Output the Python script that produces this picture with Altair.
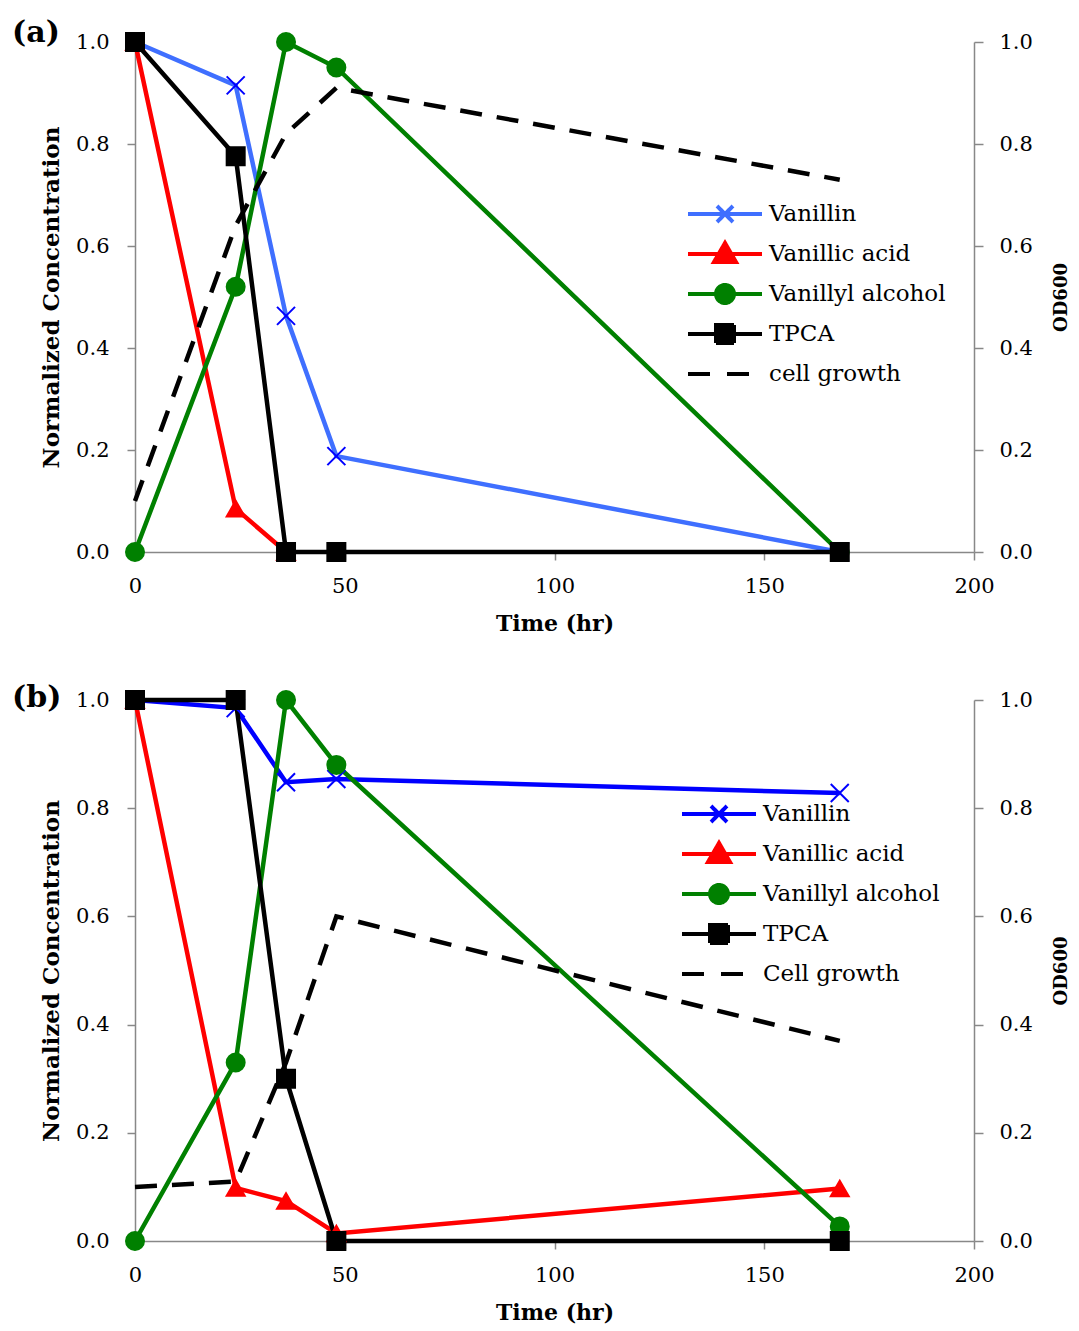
import altair as alt
import pandas as pd

FONT = "DejaVu Serif"

# ---------------- data ----------------
time_hr = [0, 24, 36, 48, 168]
series_names = ["Vanillin", "Vanillic acid", "Vanillyl alcohol", "TPCA"]

# panel (a)
a_vanillin = [1.0, 0.915, 0.463, 0.188, 0.0]
a_vanillic_acid = [1.0, 0.085, 0.0, None, None]
a_vanillyl_alcohol = [0.0, 0.52, 1.0, 0.95, 0.0]
a_tpca = [1.0, 0.776, 0.0, 0.0, 0.0]
a_cell_growth = [0.10, 0.64, 0.82, 0.91, 0.73]

# panel (b)
b_vanillin = [1.0, 0.985, 0.848, 0.854, 0.828]
b_vanillic_acid = [1.0, 0.098, 0.074, 0.014, 0.097]
b_vanillyl_alcohol = [0.0, 0.33, 1.0, 0.88, 0.027]
b_tpca = [1.0, 1.0, 0.30, 0.0, 0.0]
b_cell_growth = [0.10, 0.11, 0.33, 0.60, 0.37]

x_ticks = [0, 50, 100, 150, 200]
y_ticks = [0.0, 0.2, 0.4, 0.6, 0.8, 1.0]

# ---------------- styles ----------------
a_line_colors = ["#3F6FFF", "#FF0000", "#008000", "#000000"]
a_marker_colors = ["#0000FF", "#FF0000", "#008000", "#000000"]
b_line_colors = ["#0000FF", "#FF0000", "#008000", "#000000"]
b_marker_colors = ["#0000FF", "#FF0000", "#008000", "#000000"]

X_PATH = "M-1,-1L1,1M1,-1L-1,1"
marker_shapes = [X_PATH, "triangle-up", "circle", "square"]

# legend symbols: a line sample with the marker in its middle (units of 10 px)
LINE = "M-1.2,0H6.2"
legend_paths = [
    LINE + "M1.7,-0.8L3.3,0.8M3.3,-0.8L1.7,0.8",
    LINE + "M2.5,-1.1L3.6,0.8L1.4,0.8Z",
    LINE + "M3.4,0A0.9,0.9 0 1,1 1.6,0A0.9,0.9 0 1,1 3.4,0Z",
    LINE + "M1.6,-0.9H3.4V0.9H1.6Z",
    LINE,
]
legend_dashes = [[1, 0], [1, 0], [1, 0], [1, 0], [22, 17]]


def panel(tag, values, growth, growth_label, line_colors, marker_colors,
          height, legend_x, legend_y, title_dy):
    rows = []
    for name, vals in zip(series_names, values):
        for t, v in zip(time_hr, vals):
            if v is not None:
                rows.append({"time": t, "value": v, "series": name})
    df = pd.DataFrame(rows)
    gdf = pd.DataFrame({"time": time_hr, "od": growth})
    legend_names = series_names + [growth_label]
    ldf = pd.DataFrame({"series": legend_names})

    x = alt.X(
        "time:Q",
        scale=alt.Scale(domain=[0, 200], nice=False),
        axis=alt.Axis(values=x_ticks, title="Time (hr)", labelPadding=15,
                      titlePadding=17, tickSize=8, labelFlush=False),
    )
    y = alt.Y(
        "value:Q",
        scale=alt.Scale(domain=[0, 1], nice=False),
        axis=alt.Axis(values=y_ticks, format=".1f", title="Normalized Concentration",
                      labelPadding=18, titlePadding=12, tickSize=8, titleFontSize=23),
    )

    lines = alt.Chart(df).mark_line(strokeWidth=4.5).encode(
        x=x, y=y,
        color=alt.Color("series:N", scale=alt.Scale(domain=series_names, range=line_colors),
                        legend=None),
        detail="series:N",
    )
    points = alt.Chart(df).mark_point(filled=True, size=324, strokeWidth=2, opacity=1).encode(
        x=x, y=y,
        shape=alt.Shape("series:N", scale=alt.Scale(domain=series_names, range=marker_shapes),
                        legend=None),
        fill=alt.Fill("series:N", scale=alt.Scale(domain=series_names, range=marker_colors),
                      legend=None),
        stroke=alt.Stroke("series:N", scale=alt.Scale(domain=series_names, range=marker_colors),
                          legend=None),
    )
    growth_line = alt.Chart(gdf).mark_line(
        color="black", strokeWidth=4.5, strokeDash=[22, 15]
    ).encode(
        x=x,
        y=alt.Y("od:Q", scale=alt.Scale(domain=[0, 1], nice=False),
                axis=alt.Axis(orient="right", values=y_ticks, format=".1f", title="OD600",
                              titleAngle=270, titleFontSize=18, labelPadding=16,
                              titlePadding=38, tickSize=9)),
    )

    leg_kw = dict(orient="none", legendX=legend_x, legendY=legend_y, title=None,
                  labelFont=FONT, labelFontSize=23, labelColor="black", symbolSize=400,
                  symbolStrokeWidth=4, labelOffset=57, rowPadding=4, padding=0,
                  labelLimit=0, gridAlign="all")
    legend_layer = alt.Chart(ldf).transform_filter("false").mark_point(
        filled=True, size=400, opacity=1
    ).encode(
        shape=alt.Shape("series:N", scale=alt.Scale(domain=legend_names, range=legend_paths),
                        legend=alt.Legend(**leg_kw)),
        fill=alt.Fill("series:N", scale=alt.Scale(domain=legend_names,
                                                   range=line_colors + ["#000000"]),
                      legend=alt.Legend(**leg_kw)),
        stroke=alt.Stroke("series:N", scale=alt.Scale(domain=legend_names,
                                                       range=line_colors + ["#000000"]),
                          legend=alt.Legend(**leg_kw)),
        strokeDash=alt.StrokeDash("series:N", scale=alt.Scale(domain=legend_names,
                                                               range=legend_dashes),
                                  legend=alt.Legend(**leg_kw)),
    )

    left = alt.layer(lines, points)
    return alt.layer(left, growth_line, legend_layer).resolve_scale(
        y="independent", fill="independent", stroke="independent", shape="independent",
        strokeDash="independent",
    ).properties(
        width=839, height=height,
        title=alt.TitleParams(tag, anchor="start", frame="group", font=FONT, fontSize=30,
                              fontWeight="bold", color="black", offset=0, dx=-123,
                              dy=title_dy, baseline="alphabetic"),
    )


pa = panel("(a)", [a_vanillin, a_vanillic_acid, a_vanillyl_alcohol, a_tpca], a_cell_growth,
           "cell growth", a_line_colors, a_marker_colors, 510, 553, 160, 43)
pb = panel("(b)", [b_vanillin, b_vanillic_acid, b_vanillyl_alcohol, b_tpca], b_cell_growth,
           "Cell growth", b_line_colors, b_marker_colors, 541, 547, 102, 50)

chart = alt.vconcat(pa, pb, spacing=49).resolve_scale(
    color="independent", fill="independent", stroke="independent",
    shape="independent", strokeDash="independent",
).properties(
    padding={"left": 4, "top": 10, "right": 0, "bottom": 5}
).configure_view(stroke=None).configure_axis(
    grid=False, domainColor="#888888", tickColor="#888888", domainWidth=1.5, tickWidth=1.5,
    labelFont=FONT, titleFont=FONT, labelFontSize=21, titleFontSize=22,
    labelColor="black", titleColor="black", titleFontWeight="bold",
)

chart.save("out.html", embed_options={"renderer": "svg", "actions": False})
